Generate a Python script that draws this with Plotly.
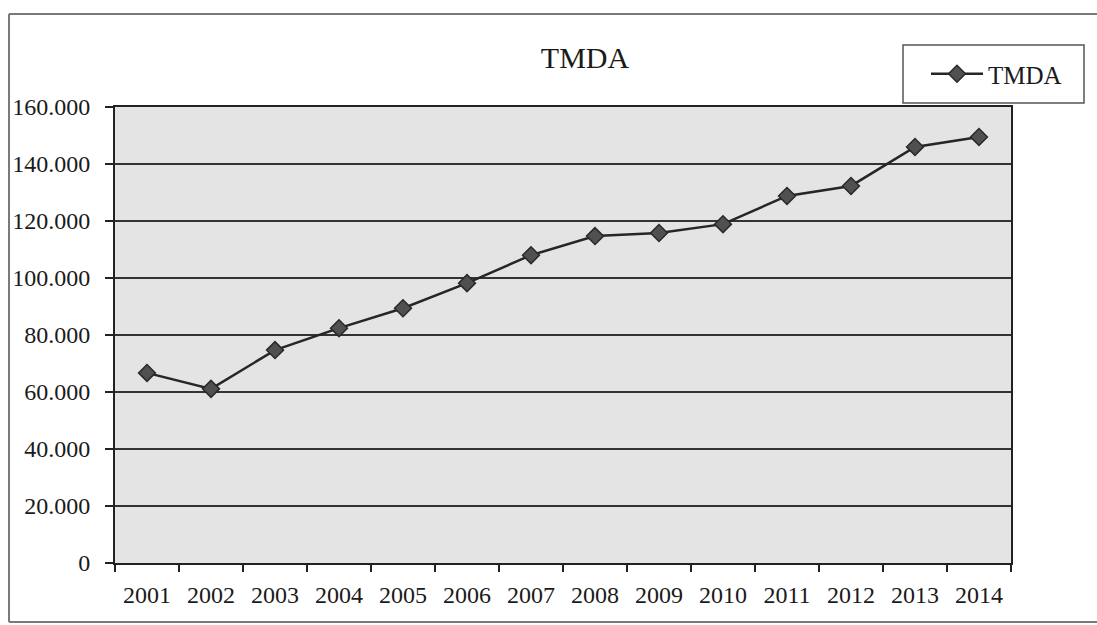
import plotly.graph_objects as go

years = ["2001", "2002", "2003", "2004", "2005", "2006", "2007",
         "2008", "2009", "2010", "2011", "2012", "2013", "2014"]
tmda = [66700, 61100, 74700, 82400, 89400, 98200, 108000,
        114700, 115800, 118900, 128800, 132300, 146000, 149500]
y_ticks = [0, 20000, 40000, 60000, 80000, 100000, 120000, 140000, 160000]

FONT = "Liberation Serif, Times New Roman, serif"

fig = go.Figure()
fig.add_trace(go.Scatter(
    x=years, y=tmda, mode="lines+markers", name="TMDA",
    line=dict(color="#262626", width=2.5),
    marker=dict(symbol="diamond", size=13, color="#505050",
                line=dict(color="#2a2a2a", width=1.5)),
))

# plot area: x 115..1011, y 107..563
L, R, T, B = 115, 1011, 107, 563
W, H = R - L, B - T

def px(x):
    return (x - L) / W

def py(y):
    return (B - y) / H

frame_col = "#7a7a7a"
shapes = [
    dict(type="line", xref="paper", yref="paper", x0=px(9), x1=px(1100), y0=py(14), y1=py(14),
         line=dict(color=frame_col, width=2)),
    dict(type="line", xref="paper", yref="paper", x0=px(9), x1=px(9), y0=py(14), y1=py(622),
         line=dict(color=frame_col, width=2)),
    dict(type="line", xref="paper", yref="paper", x0=px(9), x1=px(1100), y0=py(622), y1=py(622),
         line=dict(color=frame_col, width=2)),
    # legend box
    dict(type="rect", xref="paper", yref="paper", x0=px(903), x1=px(1084), y0=py(45), y1=py(103),
         line=dict(color="#555", width=1.5), fillcolor="white", layer="below"),
]

fig.update_layout(
    width=1097, height=625,
    margin=dict(l=L, r=1097 - R, t=T, b=625 - B),
    paper_bgcolor="white",
    plot_bgcolor="#e4e4e4",
    separators=",.",
    font=dict(family=FONT, size=24, color="#1a1a1a"),
    title=dict(text="TMDA", x=585 / 1097, xanchor="center", y=1 - 57 / 625, yanchor="middle",
               font=dict(family=FONT, size=30, color="#1a1a1a")),
    showlegend=True,
    legend=dict(x=px(926), y=py(74), xanchor="left", yanchor="middle",
                bgcolor="rgba(0,0,0,0)", borderwidth=0,
                font=dict(family=FONT, size=25, color="#1a1a1a"),
                itemwidth=52),
    shapes=shapes,
)

fig.update_xaxes(
    type="category", range=[-0.5, len(years) - 0.5],
    tickson="boundaries", ticks="outside", ticklen=7,
    tickcolor="#222", tickwidth=1.5,
    showline=True, linecolor="#222", linewidth=2, mirror=True,
    showgrid=False, ticklabelstandoff=9,
    tickfont=dict(family=FONT, size=24, color="#1a1a1a"),
)
fig.update_yaxes(
    range=[0, 160000], tickvals=y_ticks, tickformat=",d",
    ticks="outside", ticklen=8, tickcolor="#222", tickwidth=1.5,
    showline=True, linecolor="#222", linewidth=2, mirror=True,
    showgrid=True, gridcolor="#333", gridwidth=1.5, zeroline=False,
    ticklabelstandoff=10,
    tickfont=dict(family=FONT, size=24, color="#1a1a1a"),
)

fig.write_html("out.html", config={"displayModeBar": False},
               post_script="document.body.style.margin='0';")
